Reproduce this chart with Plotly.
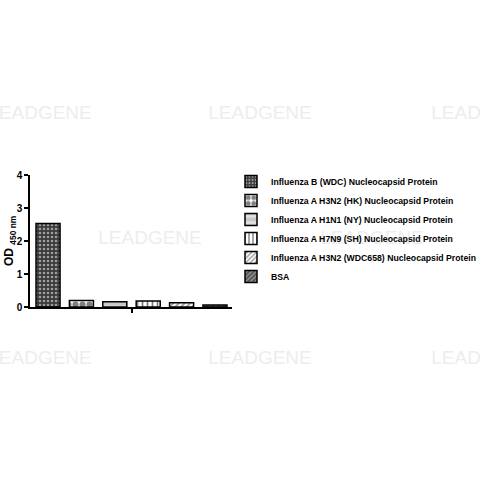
import plotly.graph_objects as go

samples = [
    'Influenza B (WDC) Nucleocapsid Protein',
    'Influenza A H3N2 (HK) Nucleocapsid Protein',
    'Influenza A H1N1 (NY) Nucleocapsid Protein',
    'Influenza A H7N9 (SH) Nucleocapsid Protein',
    'Influenza A H3N2 (WDC658) Nucleocapsid Protein',
    'BSA',
]
od450 = [2.53, 0.20, 0.16, 0.18, 0.13, 0.06]
y_ticks = [0, 1, 2, 3, 4]

# fill looks for each bar: (background, pattern shape, pattern colour, size, solidity)
fills = [
    ('#3a3a3a', '.', 'white', 4, 0.35),
    ('white', '.', 'black', 7, 0.6),
    ('#c8c8c8', '-', 'white', 8, 0.35),
    ('white', '|', 'black', 5, 0.35),
    ('white', '/', '#333333', 4, 0.45),
    ('#555555', '/', 'white', 4, 0.3),
]

# plot area in pixels
L, R, T, B = 30, 232, 175, 307
W = R - L
H = B - T

fig = go.Figure()

for i, name in enumerate(samples):
    bg, shape, fg, size, solid = fills[i]
    fig.add_trace(
        go.Bar(
            x=[i],
            y=[od450[i]],
            name=name,
            width=0.72,
            marker=dict(
                color=bg,
                line=dict(color='black', width=1.5),
                pattern=dict(shape=shape, fgcolor=fg, bgcolor=bg, size=size, solidity=solid)
            )
        )
    )

# faint watermark as in the source image, kept underneath bars and legend
marks = [(40, 110), (260, 110), (483, 110), (150, 235), (372, 235), (40, 355), (260, 355), (483, 355)]
for mx, my in marks:
    fig.add_shape(
        type='rect', xref='paper', yref='paper', layer='below',
        x0=(mx - 55 - L) / W, x1=(mx + 55 - L) / W,
        y0=(B - my - 10) / H, y1=(B - my + 10) / H,
        line=dict(width=0), fillcolor='rgba(0,0,0,0)',
        label=dict(
            text='LEADGENE', textposition='middle center',
            font=dict(family='Liberation Sans', size=19, color='#ededed')
        )
    )

# y axis title, rotated, left of the tick labels
fig.add_annotation(
    x=(10 - L) / W, y=0.5, xref='paper', yref='paper',
    text='<b>OD </b><sub><b>450 nm</b></sub>', showarrow=False, textangle=-90,
    font=dict(family='Liberation Sans', size=12, color='black'),
    xanchor='center', yanchor='middle'
)

fig.update_layout(
    width=480,
    height=480,
    plot_bgcolor='rgba(0,0,0,0)',
    paper_bgcolor='white',
    margin=dict(l=L, r=480 - R, t=T, b=480 - B, autoexpand=False),
    font=dict(family='Liberation Sans', color='black'),
    xaxis=dict(
        range=[-0.54, 5.51],
        automargin=False,
        showgrid=False,
        zeroline=False,
        showline=True,
        linecolor='black',
        linewidth=1.5,
        tickmode='array',
        tickvals=[2.5],
        showticklabels=False,
        ticks='outside',
        ticklen=4,
        tickwidth=1.5,
        tickcolor='black'
    ),
    yaxis=dict(
        range=[0, 4],
        automargin=False,
        showgrid=False,
        zeroline=False,
        showline=True,
        linecolor='black',
        linewidth=1.5,
        tickmode='array',
        tickvals=y_ticks,
        ticks='outside',
        ticklen=4,
        tickwidth=1.5,
        tickcolor='black',
        tickfont=dict(size=10, weight='bold')
    ),
    legend=dict(
        xref='container',
        yref='container',
        x=231 / 480,
        y=1 - 167 / 480,
        xanchor='left',
        yanchor='top',
        font=dict(size=8.7, weight='bold'),
        bgcolor='rgba(0,0,0,0)',
        itemwidth=30
    ),
    showlegend=True
)

# drop the browser's default body margin so the figure sits at the page corner
fig.write_html(
    'out.html',
    config={'displayModeBar': False},
    post_script="document.body.style.margin='0';"
)
